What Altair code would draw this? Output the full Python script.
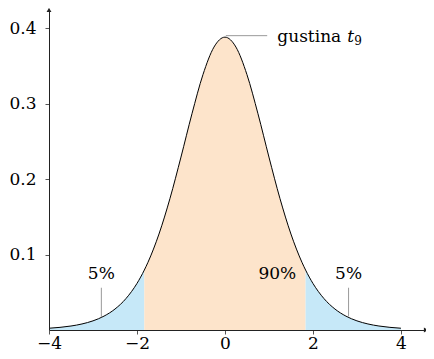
import altair as alt
import pandas as pd

# t-distribution (9 df) density
x_vals = [-4, -3.75, -3.5, -3.25, -3, -2.75, -2.5, -2.25, -2, -1.833, -1.75, -1.5,
          -1.25, -1, -0.75, -0.5, -0.25, 0, 0.25, 0.5, 0.75, 1, 1.25, 1.5, 1.75,
          1.833, 2, 2.25, 2.5, 2.75, 3, 3.25, 3.5, 3.75, 4]
half = [0.38803, 0.37483, 0.33836, 0.28657, 0.22913, 0.17429, 0.12715, 0.08972,
        0.07943, 0.06171, 0.04166, 0.02778, 0.01838, 0.01213, 0.00800, 0.00529,
        0.00351, 0.00235]
dens = half[::-1][:-1] + half
crit = 1.833

x_ticks = [-4, -2, 0, 2, 4]
y_ticks = [0.1, 0.2, 0.3, 0.4]
x_dom = [-4, 4.57]
y_dom = [0, 0.424]

FONT = "DejaVu Serif"
ORANGE = "#fde4cb"
BLUE = "#c6e8f8"

curve = pd.DataFrame({"x": x_vals, "y": dens})

rows = []
for x, y in zip(x_vals, dens):
    if x <= -crit + 1e-9:
        rows.append({"x": x, "y": y, "r": "left"})
    if -crit - 1e-9 <= x <= crit + 1e-9:
        rows.append({"x": x, "y": y, "r": "mid"})
    if x >= crit - 1e-9:
        rows.append({"x": x, "y": y, "r": "right"})
areas = pd.DataFrame(rows)

xs = alt.Scale(domain=x_dom, nice=False, zero=False)
ys = alt.Scale(domain=y_dom, nice=False)

xaxis = alt.Axis(values=x_ticks, title=None, grid=False, tickSize=4, labelPadding=1,
                 labelFont=FONT, labelFontSize=17, labelColor="black",
                 domainColor="#222", tickColor="#555", zindex=1, labelFlush=False)
yaxis = alt.Axis(values=y_ticks, format=".1f", title=None, grid=False, tickSize=4,
                 labelPadding=9, labelFont=FONT, labelFontSize=17, labelColor="black",
                 domainColor="#222", tickColor="#555", zindex=1)

area_layers = []
for reg, col in [("left", BLUE), ("mid", ORANGE), ("right", BLUE)]:
    area_layers.append(
        alt.Chart(areas).transform_filter(alt.datum.r == reg)
        .mark_area(interpolate="monotone", color=col, opacity=1)
        .encode(x=alt.X("x:Q", scale=xs, axis=xaxis), y=alt.Y("y:Q", scale=ys, axis=yaxis))
    )

line = alt.Chart(curve).mark_line(interpolate="monotone", color="black", strokeWidth=1).encode(
    x=alt.X("x:Q", scale=xs), y=alt.Y("y:Q", scale=ys))

# leader lines
lead = pd.DataFrame({
    "x": [0.02, -2.81, 2.81], "x2": [0.96, -2.81, 2.81],
    "y": [0.390, 0.017, 0.018], "y2": [0.390, 0.056, 0.056]})
leaders = alt.Chart(lead).mark_rule(color="#999", strokeWidth=1).encode(
    x="x:Q", x2="x2:Q", y="y:Q", y2="y2:Q")

lab = pd.DataFrame({"x": [-2.81, 2.81, 1.19], "y": [0.067, 0.067, 0.068],
                    "t": ["5%", "5%", "90%"]})
labels = alt.Chart(lab).mark_text(font=FONT, fontSize=17, color="black",
                                  baseline="alphabetic", align="center").encode(
    x="x:Q", y="y:Q", text="t:N")

g1 = alt.Chart(pd.DataFrame({"x": [1.19], "y": [0.381], "t": ["gustina"]})).mark_text(
    font=FONT, fontSize=17, color="black", baseline="alphabetic", align="left").encode(
    x="x:Q", y="y:Q", text="t:N")
g2 = alt.Chart(pd.DataFrame({"x": [2.78], "y": [0.381], "t": ["t"]})).mark_text(
    font=FONT, fontSize=17, fontStyle="italic", color="black", baseline="alphabetic",
    align="left").encode(x="x:Q", y="y:Q", text="t:N")
g3 = alt.Chart(pd.DataFrame({"x": [2.94], "y": [0.377], "t": ["9"]})).mark_text(
    font=FONT, fontSize=12, color="black", baseline="alphabetic", align="left").encode(
    x="x:Q", y="y:Q", text="t:N")

arrows = pd.DataFrame({"x": [x_dom[1], x_dom[0]], "y": [y_dom[0], y_dom[1]],
                       "s": ["triangle-right", "triangle-up"]})
arrow = alt.Chart(arrows).mark_point(filled=True, color="#222", size=24, opacity=1).encode(
    x="x:Q", y="y:Q", shape=alt.Shape("s:N", scale=None))

chart = alt.layer(*area_layers, line, leaders, labels, g1, g2, g3, arrow).properties(
    width=377, height=320, autosize="none",
    padding={"left": 41, "top": 2, "right": 0, "bottom": 21},
).configure_view(stroke=None)

chart.save("out.html", embed_options={"renderer": "svg", "actions": False})
